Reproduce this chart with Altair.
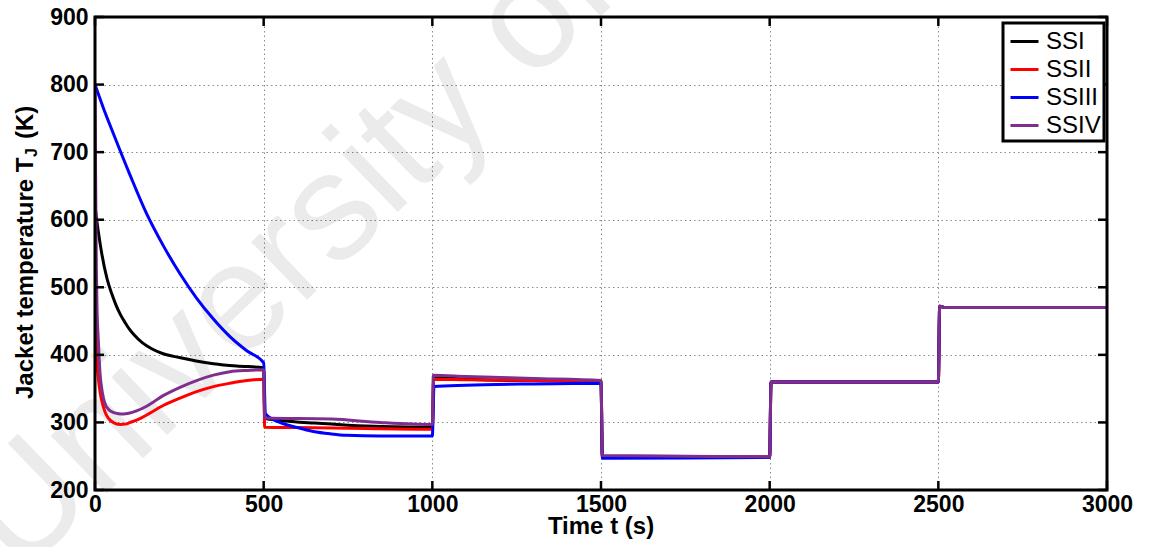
import altair as alt
import pandas as pd

# ---- jacket temperature response for the four start-up strategies ----
ssi_t = [0, 5, 10, 20, 36, 50, 62, 75, 89, 102, 115, 140, 168, 200, 250, 300, 351, 420, 500,
         503, 550, 650, 750, 850, 1000,
         1004, 1100, 1250, 1500,
         1504, 1750, 2000,
         2004, 2250, 2500,
         2504, 2520, 3000]
ssi_T = [622, 600, 582, 550, 512, 490, 474, 460, 448, 438, 430, 418, 409, 402, 396, 391, 387, 383.5, 381,
         306, 303, 299, 296, 294, 293,
         366, 364, 362, 361,
         250, 249, 249,
         360, 360, 360,
         472, 470, 470]

ssii_t = [0, 2, 5, 10, 15, 20, 30, 40, 54, 74, 90, 104, 130, 153, 202, 252, 301, 351, 400, 450, 500,
          503, 600, 800, 1000,
          1004, 1100, 1300, 1500,
          1504, 1750, 2000,
          2004, 2500,
          2504, 2520, 3000]
ssii_T = [540, 470, 400, 365, 345, 332, 315, 306, 300, 297, 297.5, 300, 305, 311, 325, 336, 345.5, 353, 358, 362, 364,
          293, 292.5, 291, 290,
          364, 363, 362, 361,
          249, 249, 249,
          360, 360,
          472, 470, 470]

ssiii_t = [0, 25, 54, 104, 153, 202, 252, 301, 351, 400, 450, 500,
           505, 548, 598, 647, 700, 746, 845, 1000,
           1005, 1100, 1300, 1500,
           1504, 1750, 2000,
           2004, 2500,
           2504, 2520, 3000]
ssiii_T = [800, 765, 728, 666, 609, 562, 520, 484, 453, 427, 406, 388,
           313, 300, 292.6, 286.6, 283, 281, 280, 280,
           353, 355, 357, 358,
           247, 247.5, 248,
           360, 360,
           472, 470, 470]

ssiv_t = [0, 2, 4, 6, 10, 15, 20, 25, 32, 39, 54, 70, 84, 100, 123, 153, 202, 252, 301, 351, 400, 450, 500,
          503, 700, 845, 1000,
          1003, 1100, 1300, 1500,
          1504, 1750, 2000,
          2004, 2500,
          2504, 2520, 3000]
ssiv_T = [800, 650, 530, 470, 420, 372, 350, 336, 325, 320, 315, 313, 312.5, 313.5, 317, 324, 339.6, 352, 362, 370, 375, 377, 378,
          306.5, 305, 300, 297,
          370, 368, 365, 362,
          251, 250, 249,
          360, 360,
          472, 470, 470]

series_names = ["SSI", "SSII", "SSIII", "SSIV"]
series_colors = ["#000000", "#ff0000", "#0000ff", "#7e2f8e"]

x_ticks = [0, 500, 1000, 1500, 2000, 2500, 3000]
y_ticks = [200, 300, 400, 500, 600, 700, 800, 900]

W, H = 1012, 473
FONT = "Liberation Sans"

frames = []
for name, ts, vs in zip(series_names, [ssi_t, ssii_t, ssiii_t, ssiv_t],
                        [ssi_T, ssii_T, ssiii_T, ssiv_T]):
    frames.append(pd.DataFrame({"t": ts, "T": vs, "series": name}))
lines_df = pd.concat(frames, ignore_index=True)

x_scale = alt.Scale(domain=[0, 3000], nice=False, zero=False)
y_scale = alt.Scale(domain=[200, 900], nice=False, zero=False)

common_axis = dict(
    grid=True, gridColor="#8a8a8a", gridDash=[1.5, 3], gridWidth=1,
    domain=False, ticks=False, tickSize=0, format="d",
    labelFont=FONT, labelFontWeight="bold", labelFontSize=23, labelColor="black",
    labelFlush=False, labelOverlap=False, title=None,
)
x_axis = alt.Axis(values=x_ticks, labelPadding=3, **common_axis)
y_axis = alt.Axis(values=y_ticks, labelPadding=7, **common_axis)

X = lambda f: alt.X(f, scale=x_scale, axis=x_axis)
Y = lambda f: alt.Y(f, scale=y_scale, axis=y_axis)

# faint diagonal watermark behind the curves
watermark = alt.Chart(pd.DataFrame({"s": ["University of Cape Town"]})).mark_text(
    font=FONT, fontSize=152, angle=316, align="left", baseline="alphabetic",
    color="black", opacity=0.075
).encode(x=alt.value(-75), y=alt.value(560), text="s:N")

lines = alt.Chart(lines_df).mark_line(
    strokeWidth=3, clip=True, interpolate="monotone"
).encode(
    x=X("t:Q"),
    y=Y("T:Q"),
    color=alt.Color(
        "series:N",
        scale=alt.Scale(domain=series_names, range=series_colors),
        legend=alt.Legend(
            orient="none", legendX=908, legendY=6, title=None,
            symbolType="stroke", symbolStrokeWidth=3, symbolSize=784,
            symbolOffset=3,
            labelFontSize=24, labelFont=FONT, labelFontWeight="normal",
            labelColor="black", labelOffset=6, rowPadding=0, padding=3,
            fillColor="white", strokeColor="black",
        ),
    ),
    detail="series:N",
)

xt = pd.DataFrame({"v": x_ticks})
yt = pd.DataFrame({"v": y_ticks})
TL = 9
tick_style = dict(color="black", strokeWidth=2.5)
ticks_bottom = alt.Chart(xt).mark_rule(**tick_style).encode(
    x=X("v:Q"), y=alt.value(H), y2=alt.value(H - TL))
ticks_top = alt.Chart(xt).mark_rule(**tick_style).encode(
    x=X("v:Q"), y=alt.value(0), y2=alt.value(TL))
ticks_left = alt.Chart(yt).mark_rule(**tick_style).encode(
    y=Y("v:Q"), x=alt.value(0), x2=alt.value(TL))
ticks_right = alt.Chart(yt).mark_rule(**tick_style).encode(
    y=Y("v:Q"), x=alt.value(W), x2=alt.value(W - TL))

one = pd.DataFrame({"k": [0]})
frame = alt.Chart(one).mark_rect(
    fillOpacity=0, stroke="black", strokeWidth=3
).encode(x=alt.value(0), x2=alt.value(W), y=alt.value(0), y2=alt.value(H))

# axis titles (the y title carries a subscript J)
x_title = alt.Chart(pd.DataFrame({"s": ["Time t (s)"]})).mark_text(
    font=FONT, fontWeight="bold", fontSize=24, align="center",
    baseline="alphabetic", color="black"
).encode(x=alt.value(W / 2), y=alt.value(517), text="s:N")

y_title_main = alt.Chart(pd.DataFrame({"s": ["Jacket temperature T"]})).mark_text(
    font=FONT, fontWeight="bold", fontSize=24, angle=270, align="left",
    baseline="alphabetic", color="black"
).encode(x=alt.value(-62), y=alt.value(382), text="s:N")
y_title_sub = alt.Chart(pd.DataFrame({"s": ["J"]})).mark_text(
    font=FONT, fontWeight="bold", fontSize=16, angle=270, align="left",
    baseline="alphabetic", color="black"
).encode(x=alt.value(-58), y=alt.value(140), text="s:N")
y_title_unit = alt.Chart(pd.DataFrame({"s": ["(K)"]})).mark_text(
    font=FONT, fontWeight="bold", fontSize=24, angle=270, align="left",
    baseline="alphabetic", color="black"
).encode(x=alt.value(-62), y=alt.value(122), text="s:N")

chart = alt.layer(
    watermark, lines, ticks_bottom, ticks_top, ticks_left, ticks_right, frame,
    x_title, y_title_main, y_title_sub, y_title_unit,
).properties(
    width=W, height=H,
    autosize=alt.AutoSizeParams(type="none"),
    padding={"left": 95, "top": 17, "right": 43, "bottom": 57},
).configure_view(stroke=None).configure_legend(strokeWidth=3)

chart.save("out.html", embed_options={"renderer": "svg", "actions": False})
